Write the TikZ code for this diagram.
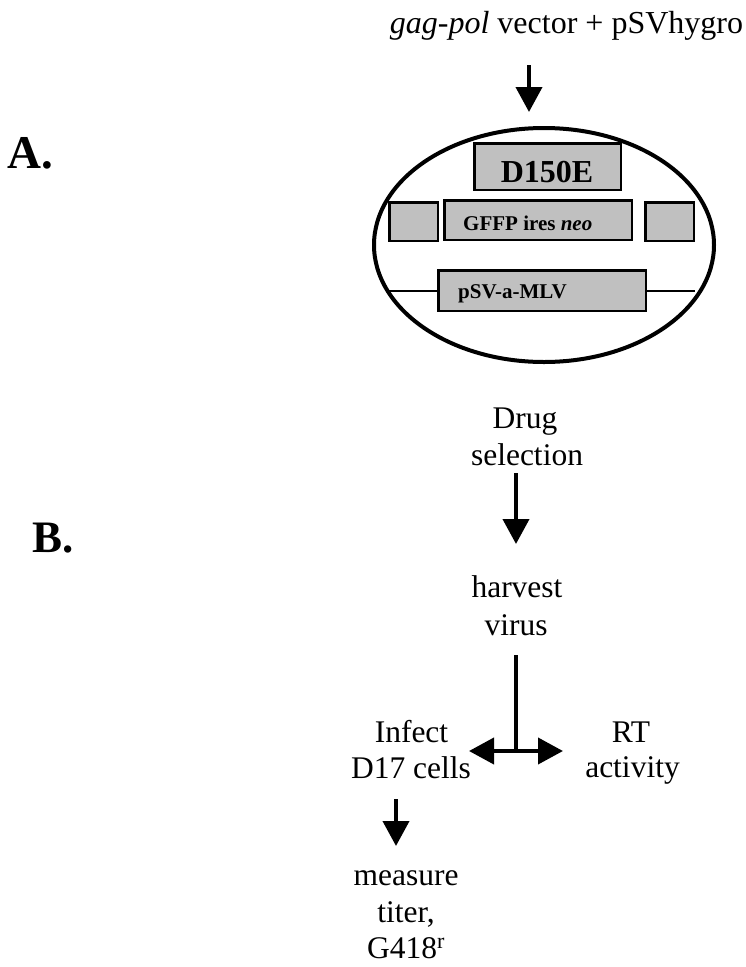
\documentclass[tikz,border=0pt]{standalone}
\usepackage{fontspec}
\setmainfont{Liberation Serif}
\usetikzlibrary{arrows.meta,shapes.geometric}
\definecolor{boxgray}{RGB}{192,192,192}
\tikzset{
  lbl/.style={inner sep=0pt, anchor=base, font=\fontsize{31.5}{37}\selectfont},
  big/.style={inner sep=0pt, anchor=base west, font=\fontsize{47}{52}\selectfont\bfseries},
  gene/.style={draw, fill=boxgray, line width=2.5pt, inner sep=0pt, minimum width=#1},
  genetxt/.style={inner sep=0pt, anchor=base west, font=\fontsize{21}{25}\selectfont\bfseries},
  arr/.style={line width=4pt, -{Triangle[length=25pt,width=26pt]}},
  dblarr/.style={line width=4pt, {Triangle[length=25pt,width=26pt]}-{Triangle[length=25pt,width=26pt]}},
  plain/.style={line width=4pt}
}
\begin{document}
\begin{tikzpicture}[x=1pt,y=-1pt]
\useasboundingbox (0,0) rectangle (746,967);
% labels
\node[big] (A) at (7,168) {A.};
\node[big, font=\fontsize{45}{50}\selectfont\bfseries] (B) at (32,552) {B.};
% title
\node[lbl, font=\fontsize{32}{37}\selectfont] (title) at (566.5,33) {\textit{gag-pol} vector + pSVhygro};
% cell
\node[draw, ellipse, line width=4pt, inner sep=0pt, minimum width=340pt, minimum height=234pt] (cell) at (544,245) {};
\draw[line width=2pt] (387,291) coordinate (wl) -- (695,291) coordinate (wr);
\node[gene=146.5pt, minimum height=46.5pt] (d150) at (547.5,166.5) {};
\node[inner sep=0pt, anchor=base, font=\fontsize{32}{36}\selectfont\bfseries] (d150t) at (547,182) {D150E};
\node[gene=48.5pt, minimum height=38.5pt] (ltr1) at (413.5,221.5) {};
\node[gene=187.5pt, minimum height=39.5pt] (gfp) at (538,220) {};
\node[gene=48.5pt, minimum height=38.5pt] (ltr2) at (669.5,221.5) {};
\node[genetxt] (gfpt) at (463,230) {GFFP ires \textit{neo}};
\node[gene=207.5pt, minimum height=40.5pt] (psv) at (542,290.5) {};
\node[genetxt] (psvt) at (458,298) {pSV-a-MLV};
% arrow 1
\coordinate (a1s) at (529,65);
\coordinate (a1e) at (529,112);
\draw[arr] (a1s) -- (a1e);
% drug selection
\node[lbl] (drug) at (525,428) {Drug};
\node[lbl] (sel) at (527,465) {selection};
\coordinate (a2s) at (516,473);
\coordinate (a2e) at (516,544);
\draw[arr] (a2s) -- (a2e);
\node[lbl] (harv) at (517,597) {harvest};
\node[lbl] (virus) at (516,635) {virus};
% split
\coordinate (vtop) at (516,655);
\coordinate (junc) at (516,751);
\coordinate (lt) at (469,751);
\coordinate (rt) at (563,751);
\draw[plain] (vtop) -- (junc);
\draw[dblarr] (lt) -- (rt);
\node[lbl] (inf) at (411.5,742) {Infect};
\node[lbl] (d17) at (411,778) {D17 cells};
\node[lbl] (rtt) at (631,742) {RT};
\node[lbl] (act) at (632.5,777) {activity};
% arrow 3
\coordinate (a3s) at (396,799);
\coordinate (a3e) at (396,846);
\draw[arr] (a3s) -- (a3e);
\node[lbl] (meas) at (406,885) {measure};
\node[lbl] (titer) at (406,922) {titer,};
\node[lbl] (g418) at (406,958) {G418\textsuperscript{r}};
\end{tikzpicture}
\end{document}
